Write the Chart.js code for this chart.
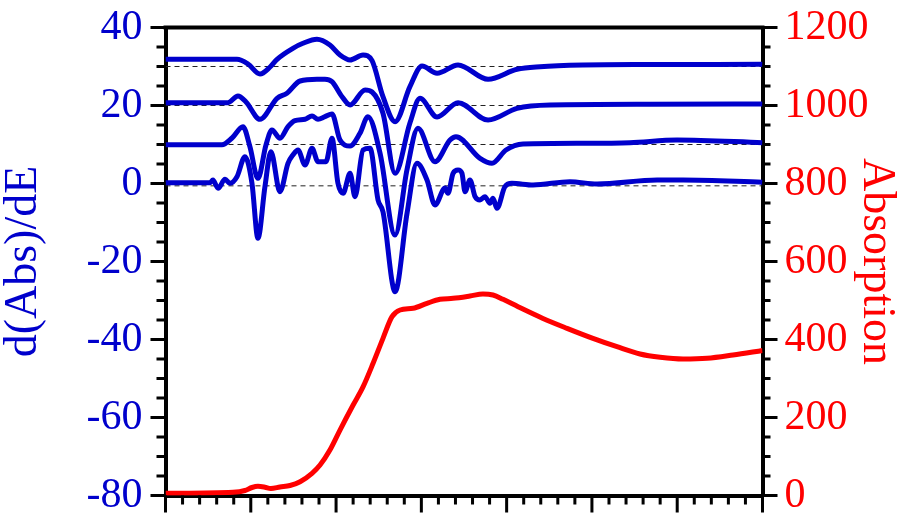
<!DOCTYPE html>
<html>
<head>
<meta charset="utf-8">
<script src="https://cdn.jsdelivr.net/npm/chart.js@4.4.1/dist/chart.umd.min.js"></script>
<style>
  html, body { margin: 0; padding: 0; background: #fff; }
  #wrap { width: 897px; height: 514px; }
</style>
</head>
<body>
<div id="wrap"><canvas id="xanesChart" width="897" height="514"></canvas></div>
<script>
// energy axis: 0..35, one minor tick per unit, no labels
const xMin = 0, xMax = 35;

// derivative spectra, stacked with offsets 30 / 20 / 10 / 0
const trace30E = [0, 4.19, 4.84, 5.54, 6.13, 6.54, 7.47, 8.06, 8.88, 9.64, 10.23, 10.82, 11.58, 12.11, 12.75, 13.46, 14.33, 15.04, 15.92, 17.15, 18.91, 20.61, 21.96, 24.48, 28.41, 35];
const trace30 = [31.85, 31.85, 30.64, 28.08, 29.87, 31.85, 34.67, 35.95, 36.97, 35.51, 32.95, 31.67, 32.95, 31.5, 22.26, 15.85, 24.82, 30.13, 28.26, 30.38, 26.72, 29.28, 29.95, 30.38, 30.5, 30.56];

const trace20E = [0, 3.66, 4.25, 4.72, 5.54, 6.54, 7.12, 7.89, 8.88, 9.35, 9.76, 10.35, 10.82, 11.70, 12.11, 12.75, 13.46, 14.33, 14.92, 15.92, 17.15, 18.91, 20.61, 22.54, 28.41, 35];
const trace20 = [20.72, 20.72, 22.44, 20.9, 16.46, 21.85, 23.13, 26.28, 26.72, 26.72, 26.1, 22.26, 20.13, 23.97, 23.46, 18, 2.6, 15.5, 21.85, 17.05, 20.72, 16.28, 19.28, 20.13, 20.31, 20.38];

const trace10E = [0, 3.31, 3.90, 4.54, 4.95, 5.42, 5.89, 6.24, 6.71, 7.18, 7.59, 8.18, 8.59, 8.94, 9.35, 9.76, 10.23, 10.82, 11.40, 11.87, 12.58, 13.46, 14.16, 14.80, 15.80, 16.68, 17.03, 18.44, 19.14, 19.96, 20.96, 24.48, 27.23, 29.99, 35];
const trace10 = [9.95, 9.95, 11.67, 14.56, 9.44, 1.33, 9.87, 13.72, 11.59, 14.56, 16.1, 16.46, 17.31, 16.46, 17.13, 17.82, 11.15, 9.62, 12.87, 17.13, 7.74, -13.21, 3.6, 14.15, 5.59, 11.15, 12.0, 6.46, 5.18, 8.59, 10.13, 10.31, 10.46, 11.15, 10.46];

const trace0E = [0, 2.61, 2.78, 3.08, 3.49, 3.78, 4.19, 4.66, 5.07, 5.42, 5.83, 6.18, 6.71, 7.18, 7.47, 7.77, 8.18, 8.59, 8.94, 9.41, 9.76, 10.11, 10.41, 10.82, 11.11, 11.58, 11.99, 12.46, 12.75, 13.46, 14.16, 14.74, 15.33, 15.80, 16.39, 16.56, 16.86, 17.15, 17.38, 17.56, 17.85, 18.15, 18.44, 18.73, 19.02, 19.20, 19.43, 19.90, 20.31, 21.55, 23.71, 25.30, 28.82, 30.34, 35];
const trace0 = [0.21, 0.21, 0.9, -1.23, 1.08, 0.05, 1.74, 6.87, 0.05, -14.05, -0.82, 8.15, -2.1, 5.18, 7.31, 8.59, 4.74, 9.03, 5.59, 5.59, 11.59, 0.05, -2.51, 2.62, -3.38, 8.59, 9.03, -4.23, -7.23, -27.74, -7.64, 5.18, 0.9, -5.51, -1.15, -2.51, 2.62, 3.46, 2.62, -2.1, 0.9, -3.38, -4.23, -3.38, -5.08, -3.79, -6.36, -0.82, 0.05, -0.38, 0.46, -0.13, 0.9, 0.9, 0.31];

// absorption spectrum (right axis)
const absE = [0, 3.96, 4.66, 5.07, 5.42, 5.83, 6.18, 6.71, 7.30, 7.89, 8.59, 9.06, 9.64, 10.23, 11.00, 11.58, 12.17, 12.75, 13.28, 13.75, 14.51, 15.33, 16.09, 16.86, 17.85, 18.61, 19.20, 19.79, 20.67, 22.13, 23.54, 25.06, 26.47, 27.82, 29.00, 30.34, 31.75, 33.27, 35];
const absorption = [5.6, 8.2, 12.8, 20.5, 23.6, 21.3, 17.9, 21.8, 25.6, 35.4, 56.9, 78.2, 116.7, 167.9, 232, 278.5, 339, 403, 458.5, 475.6, 480, 492.8, 503, 505.6, 511.5, 516.7, 514, 503, 484, 454, 428.7, 403, 381.5, 362.8, 354.4, 350, 351.8, 360.3, 372];

// dashed zero lines for each offset trace
const baselines = [30, 20, 10, -0.6];

// axis ranges and tick steps
const dMin = -80, dMax = 40, dStep = 20, dMinor = 5;
const aMin = 0, aMax = 1200, aStep = 200, aMinor = 50;
const eMajor = 5, eMinor = 1;

const blue = '#0000cc';
const red = '#ff0000';
const serif = "'Liberation Serif', 'Times New Roman', serif";

const pts = (xs, ys) => xs.map((x, i) => ({ x: x, y: ys[i] }));

const traceSets = [[trace30E, trace30], [trace20E, trace20], [trace10E, trace10], [trace0E, trace0]].map(([e, v]) => ({
  data: pts(e, v),
  yAxisID: 'y',
  borderColor: blue,
  borderWidth: 5,
  pointRadius: 0,
  cubicInterpolationMode: 'monotone',
  order: 1
}));

const baselineSets = baselines.map(b => ({
  data: [{ x: xMin, y: b }, { x: xMax, y: b }],
  yAxisID: 'y',
  borderColor: '#222',
  borderWidth: 1,
  borderDash: [5, 4],
  pointRadius: 0,
  order: 5
}));

const absSet = {
  data: pts(absE, absorption),
  yAxisID: 'y2',
  borderColor: red,
  borderWidth: 5,
  pointRadius: 0,
  cubicInterpolationMode: 'monotone',
  order: 1
};

// minor/major tick marks and the top frame line
const tickMarks = {
  id: 'tickMarks',
  afterDraw(chart) {
    const { ctx, chartArea: ca, scales } = chart;
    ctx.save();
    ctx.strokeStyle = '#000';
    ctx.lineWidth = 4;
    ctx.beginPath();
    ctx.moveTo(ca.left - 2, ca.top);
    ctx.lineTo(ca.right + 2, ca.top);
    ctx.stroke();

    ctx.lineWidth = 3;
    ctx.beginPath();
    for (let v = dMin; v <= dMax; v += dMinor) {
      const y = scales.y.getPixelForValue(v);
      const len = v % dStep === 0 ? 15 : 9;
      ctx.moveTo(ca.left - len, y);
      ctx.lineTo(ca.left, y);
    }
    for (let v = aMin; v <= aMax; v += aMinor) {
      const y = scales.y2.getPixelForValue(v);
      const len = v % aStep === 0 ? 15 : 8;
      ctx.moveTo(ca.right, y);
      ctx.lineTo(ca.right + len, y);
    }
    for (let v = xMin; v <= xMax; v += eMinor) {
      const x = scales.x.getPixelForValue(v);
      const len = v % eMajor === 0 ? 17 : 9;
      ctx.moveTo(x, ca.bottom);
      ctx.lineTo(x, ca.bottom + len);
    }
    ctx.stroke();
    ctx.restore();
  }
};

new Chart(document.getElementById('xanesChart'), {
  type: 'line',
  data: { datasets: [...traceSets, absSet, ...baselineSets] },
  plugins: [tickMarks],
  options: {
    responsive: false,
    animation: false,
    devicePixelRatio: 1,
    layout: { padding: { top: 27.5, left: 0, right: 0, bottom: 0 } },
    plugins: { legend: { display: false }, tooltip: { enabled: false } },
    scales: {
      x: {
        type: 'linear',
        min: xMin,
        max: xMax,
        ticks: { display: false },
        grid: { display: false },
        border: { display: true, color: '#000', width: 4 },
        afterFit: s => { s.height = 18.5; }
      },
      y: {
        position: 'left',
        min: dMin,
        max: dMax,
        ticks: { stepSize: dStep, color: blue, padding: 8, font: { family: serif, size: 42, lineHeight: 0.2 } },
        grid: { display: false, tickLength: 15 },
        border: { display: true, color: '#000', width: 4 },
        title: { display: true, text: 'd(Abs)/dE', color: blue, font: { family: serif, size: 46, lineHeight: 1 }, padding: { top: 1, bottom: 0 } },
        afterFit: s => { s.width = 165.5; }
      },
      y2: {
        position: 'right',
        min: aMin,
        max: aMax,
        ticks: { stepSize: aStep, color: red, padding: 7, font: { family: serif, size: 42, lineHeight: 0.2 }, callback: v => String(v) },
        grid: { display: false, tickLength: 15 },
        border: { display: true, color: '#000', width: 4 },
        title: { display: true, text: 'Absorption', color: red, font: { family: serif, size: 46, lineHeight: 0.9 }, padding: { top: 0.5, bottom: 0 } },
        afterFit: s => { s.width = 134.5; }
      }
    }
  }
});
</script>
</body>
</html>
